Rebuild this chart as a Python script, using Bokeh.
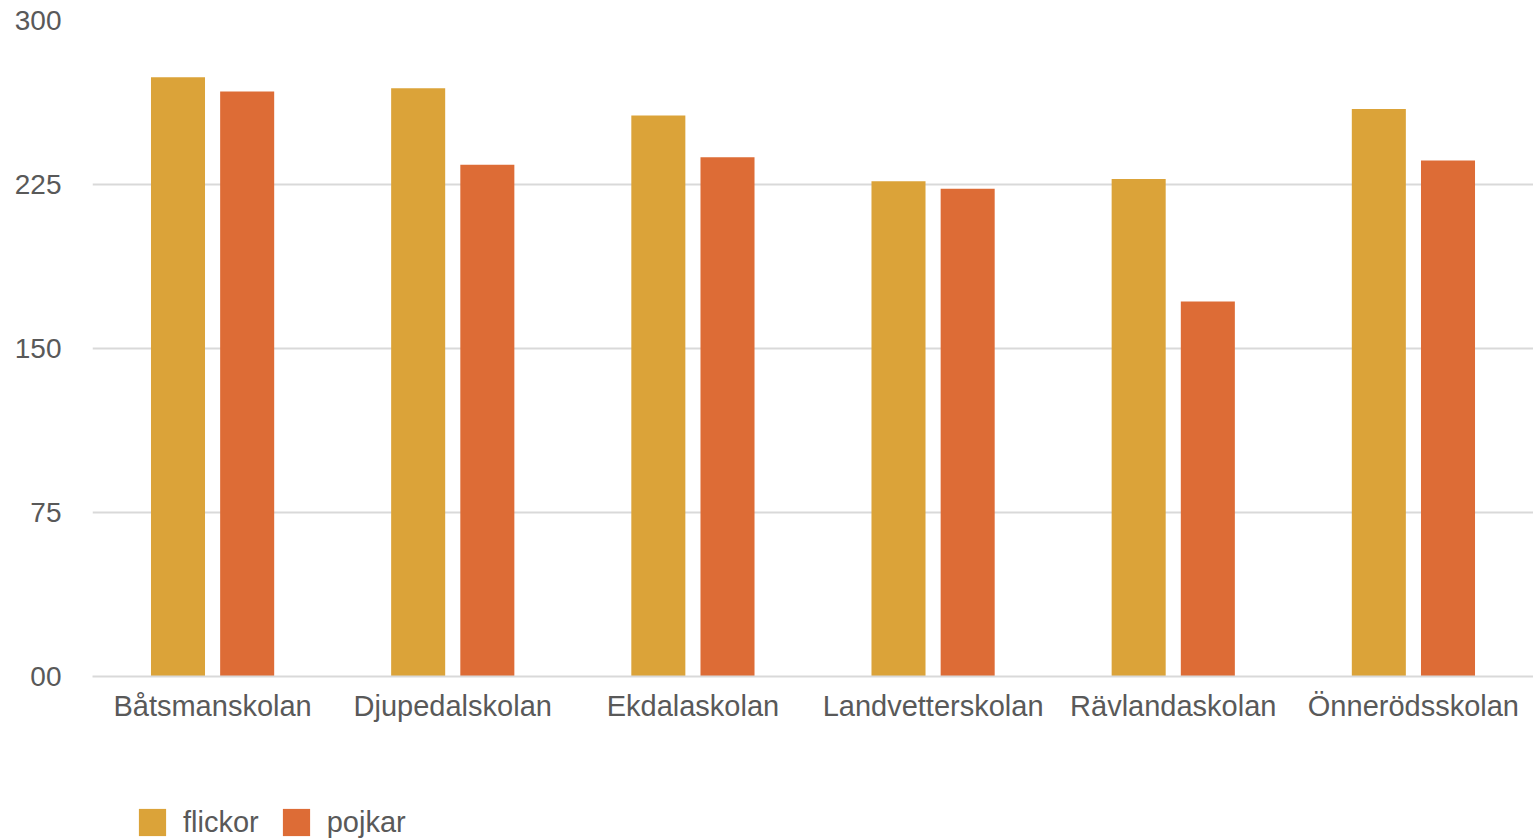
from bokeh.plotting import figure
from bokeh.layouts import column
from bokeh.models import ColumnDataSource, FactorRange, FixedTicker, Legend, LegendItem
from bokeh.transform import dodge
from bokeh.embed import file_html
from bokeh.resources import INLINE

schools = ["Båtsmanskolan", "Djupedalskolan", "Ekdalaskolan",
           "Landvetterskolan", "Rävlandaskolan", "Önnerödsskolan"]
flickor = [274, 269, 256.5, 226.5, 227.5, 259.5]
pojkar = [267.5, 234, 237.5, 223, 171.5, 236]
y_ticks = [0, 75, 150, 225, 300]
y_labels = {0: "00", 75: "75", 150: "150", 225: "225", 300: "300"}
series = ["flickor", "pojkar"]

FONT = "Liberation Sans"
TXT = "#595959"
C_F = "#dba339"
C_P = "#dd6c36"

src = ColumnDataSource(dict(school=schools, flickor=flickor, pojkar=pojkar))

p = figure(width=1533, height=780, x_range=FactorRange(factors=schools),
           y_range=(0, 300), output_backend="svg", toolbar_location=None,
           min_border_left=92, min_border_right=0, min_border_top=20,
           min_border_bottom=104)

p.vbar(x=dodge("school", -0.144, range=p.x_range), top="flickor", width=0.225,
       source=src, fill_color=C_F, line_color=None)
p.vbar(x=dodge("school", 0.144, range=p.x_range), top="pojkar", width=0.225,
       source=src, fill_color=C_P, line_color=None)

p.outline_line_color = None
p.xgrid.grid_line_color = None
p.ygrid.grid_line_color = "#d9d9d9"
p.ygrid.grid_line_width = 2
p.yaxis.ticker = FixedTicker(ticks=y_ticks)
p.yaxis.major_label_overrides = y_labels
p.yaxis.axis_line_color = None
p.yaxis.major_tick_line_color = None
p.yaxis.minor_tick_line_color = None
p.yaxis.major_label_standoff = 25
p.yaxis.major_label_text_font_size = "28px"
p.xaxis.axis_line_color = "#d9d9d9"
p.xaxis.axis_line_width = 2
p.xaxis.major_tick_line_color = None
p.xaxis.minor_tick_line_color = None
p.xaxis.major_label_standoff = 7
p.xaxis.major_label_text_font_size = "29px"
for ax in (p.xaxis, p.yaxis):
    ax.major_label_text_font = FONT
    ax.major_label_text_color = TXT

# legend strip below the chart (its frame is aligned with the chart's frame)
lg = figure(width=1533, height=59, x_range=(0, 1), y_range=(0, 1),
            output_backend="svg", toolbar_location=None,
            x_axis_type=None, y_axis_type=None,
            min_border_left=0, min_border_right=0, min_border_top=0,
            min_border_bottom=0)
lg.outline_line_color = None
lg.xgrid.grid_line_color = None
lg.ygrid.grid_line_color = None
hidden = ColumnDataSource(dict(x=[-10], top=[0]))
d1 = lg.vbar(x="x", top="top", width=0.1, source=hidden, fill_color=C_F, line_color=None)
d2 = lg.vbar(x="x", top="top", width=0.1, source=hidden, fill_color=C_P, line_color=None)
legend = Legend(items=[LegendItem(label=series[0], renderers=[d1]),
                       LegendItem(label=series[1], renderers=[d2])],
                orientation="horizontal", location=(43, 0),
                glyph_width=34, glyph_height=34, label_standoff=14, spacing=20,
                padding=0, margin=0, border_line_color=None,
                background_fill_alpha=0,
                label_text_font=FONT, label_text_font_size="29px",
                label_text_color=TXT)
lg.add_layout(legend, "center")

layout = column(p, lg, spacing=0)
open("out.html", "w").write(file_html(layout, INLINE))
